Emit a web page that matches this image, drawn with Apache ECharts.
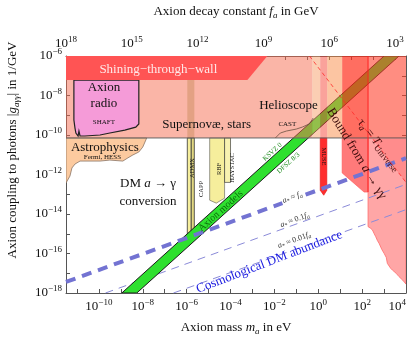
<!DOCTYPE html>
<html>
<head>
<meta charset="utf-8">
<script src="https://cdn.jsdelivr.net/npm/echarts@6/dist/echarts.min.js"></script>
<style>
html,body{margin:0;padding:0;background:#fff;}
#chart{width:409px;height:339px;}
</style>
</head>
<body>
<div id="chart"></div>
<script>
// ---------- data (log10 units: x = log10(m_a / eV), y = log10(|g_agg| * GeV)) ----------
const massRange = [-11.5, 4.0];
const couplingRange = [-18, -6];
const logMassTimesFa = 6.5;              // log10(m_a[eV] * f_a[GeV])
const massTickExps = [-11,-10,-9,-8,-7,-6,-5,-4,-3,-2,-1,0,1,2,3,4];
const massLabelExps = [-10,-8,-6,-4,-2,0,2,4];
const couplingTickExps = [-18,-17,-16,-15,-14,-13,-12,-11,-10,-9,-8,-7,-6];
const couplingLabelExps = [-18,-16,-14,-12,-10,-8,-6];
const faTickExps = [3,4,5,6,7,8,9,10,11,12,13,14,15,16,17,18];
const faLabelExps = [3,6,9,12,15,18];

const hbBound = -10.15;
const shiningWall = [[-11.5,-6],[-2.32,-6],[-3.23,-7.22],[-11.5,-7.22]];
const helioStars = [[-11.5,-6],[-0.27,-6],[-0.27,-10.15],[-11.5,-10.15]];
const colEdges = [-0.27, 0.09, 0.41, 1.09, 2.27, 4.0];
const shaft = [[-11.14,-7.22],[-8.18,-7.22],[-8.18,-9.44],[-8.32,-9.6],[-8.82,-9.75],[-9.5,-9.9],[-9.95,-10.0],[-10.64,-10.05],[-10.86,-10.05],[-10.91,-9.8],[-10.95,-10.05],[-11.05,-9.9],[-11.09,-9.65],[-11.14,-9.24]];
const astro = [[-11.5,-10.15],[-7.82,-10.15],[-8.0,-10.61],[-8.18,-10.86],[-8.45,-11.01],[-8.68,-11.16],[-8.91,-11.32],[-9.5,-11.27],[-9.95,-11.32],[-10.86,-11.32],[-11.09,-11.47],[-11.23,-11.67],[-11.32,-12.08],[-11.5,-12.43]];
const admx = [[-5.97,-10.15],[-5.79,-10.15],[-5.79,-15.1],[-5.88,-15.45],[-5.97,-15.1]];
const capp = [[-5.79,-10.15],[-5.65,-10.15],[-5.65,-14.95],[-5.72,-15.25],[-5.79,-14.95]];
const rbfUf = [[-4.95,-10.15],[-4.27,-10.15],[-4.27,-13.2],[-4.65,-13.45],[-4.95,-13.3]];
const haystac = [[-4.27,-10.15],[-4.0,-10.15],[-4.0,-12.4],[-4.27,-12.4]];
const haloscopeHigh = [[-5.97,-6],[-5.65,-6],[-5.65,-10.15],[-5.97,-10.15]];
const museLow = [[0.09,-10.15],[0.39,-10.15],[0.39,-12.8],[0.25,-13.05],[0.09,-12.8]];
const redBlockLow = [[1.09,-10.15],[2.27,-10.15],[2.27,-12.89],[2.09,-12.89],[1.09,-11.92]];
const pinkLow = [[2.27,-10.15],[4.0,-10.15],[4.0,-17.55],[3.85,-17.35],[3.68,-17.17],[3.55,-17.0],[3.38,-16.84],[3.3,-16.75],[3.15,-16.5],[3.1,-16.2],[3.0,-15.99],[2.9,-15.8],[2.77,-15.48],[2.7,-15.35],[2.62,-15.15],[2.55,-15.0],[2.47,-14.81],[2.38,-14.72],[2.27,-14.64]];
const decayLow = [[2.45,-10.15],[4.0,-10.15],[4.0,-12.4]];
const ksvzEdge = [[-8.955,-18],[3.0,-6]];
const dfszEdge = [[-8.273,-18],[3.682,-6]];
const dmAbundance = [[-11.5,-17.44],[4.0,-11.17]];
const dmAbundance01 = [[-9.7,-18],[4.0,-12.5]];
const dmAbundance001 = [[-6.6,-18],[4.0,-13.78]];
const tauUniverse = [[-0.4,-6],[4.0,-12.4]];
const castCurve = [[-1.955,-10.15],[-1.73,-9.9],[-1.455,-9.8],[-1.0,-9.7],[-0.73,-9.6],[-0.41,-9.44],[-0.23,-9.14]];
const decayVertical = [[2.27,-6],[2.27,-12.89]];

// ---------- rendering ----------
const FF = '"Liberation Serif", "Times New Roman", serif';

function richZr(size, color) {
  const c = color || '#111';
  return {
    i: {fontStyle: 'italic', fontSize: size, fontFamily: FF, fill: c, color: c},
    sb: {fontSize: Math.round(size * 0.7), fontFamily: FF, fill: c, color: c, padding: [Math.round(size * 0.55), 0, 0, 0]},
    sbi: {fontStyle: 'italic', fontSize: Math.round(size * 0.7), fontFamily: FF, fill: c, color: c, padding: [Math.round(size * 0.55), 0, 0, 0]}
  };
}

function pow10(v) {
  const e = Math.round(v);
  const s = e < 0 ? '\u2212' + (-e) : String(e);
  return '{b|10}{s|' + s + '}';
}
const axisRich = {
  b: {fontSize: 13, fontFamily: FF, color: '#111'},
  s: {fontSize: 9, fontFamily: FF, color: '#111', padding: [0, 0, 8, 0]}
};

function polygon(pts, style, z) {
  return {
    type: 'custom', xAxisIndex: 0, yAxisIndex: 0, z: z, silent: true, clip: true,
    data: [pts[0]],
    renderItem: function (params, api) {
      return {type: 'polygon', shape: {points: pts.map(function (p) { return api.coord(p); })}, style: Object.assign({}, style)};
    }
  };
}
function line(pts, color, width, dash, z) {
  return {
    type: 'line', xAxisIndex: 0, yAxisIndex: 0, data: pts, symbol: 'none', silent: true, z: z, clip: true,
    lineStyle: {color: color, width: width, type: dash || 'solid', cap: 'butt'}
  };
}
function columnsAbove() {
  const fills = ['rgba(247,158,104,0.5)', 'rgba(245,70,55,0.5)', 'rgba(249,140,70,0.5)', 'rgba(255,48,30,0.7)', 'rgba(255,65,45,0.6)'];
  const out = [];
  for (let k = 0; k < colEdges.length - 1; k++) {
    const a = colEdges[k], b = colEdges[k + 1];
    out.push(polygon([[a, couplingRange[1]], [b, couplingRange[1]], [b, hbBound], [a, hbBound]], {fill: fills[k]}, 5));
  }
  return out;
}

function buildAnnotations() {
  return [
    {t: 'Shining\u2212through\u2212wall', p: [-7.29, -6.71], f: 13, c: '#ffe8e8'},
    {t: 'Axion', p: [-9.77, -7.58], f: 13},
    {t: 'radio', p: [-9.77, -8.43], f: 13},
    {t: 'SHAFT', p: [-9.77, -9.33], f: 7},
    {t: 'Astrophysics', p: [-9.73, -10.63], f: 13},
    {t: 'Fermi, HESS', p: [-9.84, -11.14], f: 7},
    {t: 'Supernov\u00e6, stars', p: [-5.09, -9.47], f: 13},
    {t: 'Helioscope', p: [-1.36, -8.53], f: 13},
    {t: 'CAST', p: [-1.41, -9.47], f: 7},
    {t: 'DM {i|a} \u2192 \u03b3', p: [-7.76, -12.48], f: 13},
    {t: 'conversion', p: [-7.76, -13.38], f: 13},
    {t: 'ADMX', p: [-5.75, -11.67], f: 6.5, r: 90},
    {t: 'CAPP', p: [-5.34, -12.73], f: 6.5, r: 90},
    {t: 'RBF', p: [-4.5, -11.72], f: 6.5, r: 90},
    {t: 'HAYSTAC', p: [-3.91, -11.67], f: 6.5, r: 90},
    {t: 'Axion models', p: [-4.45, -13.85], f: 10, r: 42, c: '#0b6a0b'},
    {t: 'KSVZ 0', p: [-2.09, -10.86], f: 7, r: 42, c: '#1e8c1e'},
    {t: 'DFSZ 8/3', p: [-1.36, -11.42], f: 7, r: 42, c: '#1e8c1e'},
    {t: '{i|a}{sb|*} \u2248 {i|f}{sbi|a}', p: [-1.18, -13.16], f: 8, r: 20, c: '#333', bg: '#fff'},
    {t: '{i|a}{sb|*} \u2248 0.1{i|f}{sbi|a}', p: [-1.07, -14.30], f: 8, r: 20, c: '#333'},
    {t: '{i|a}{sb|*} \u2248 0.01{i|f}{sbi|a}', p: [-1.09, -15.32], f: 8, r: 20, c: '#333'},
    {t: 'Cosmological DM abundance', p: [-2.23, -16.43], f: 13, r: 21, c: '#1a1ae0'},
    {t: 'MUSE', p: [0.25, -11.09], f: 6.5, r: -90},
    {t: 'Bound from {i|a} \u2192 \u03b3\u03b3', p: [1.75, -10.94], f: 13, r: -58.6, c: '#3a0a0a'},
    {t: '\u03c4{sbi|a} = {i|T}{sb|Universe}', p: [2.77, -10.51], f: 12.5, r: -52, c: '#4a0c0c'}
  ];
}

const ann = buildAnnotations();
const textSeries = {
  type: 'custom', xAxisIndex: 0, yAxisIndex: 0, z: 8, silent: true, clip: false,
  data: ann.map(function (a) { return a.p; }),
  renderItem: function (params, api) {
    const a = ann[params.dataIndex];
    const pt = api.coord([api.value(0), api.value(1)]);
    const st = {
      text: a.t, fill: a.c || '#111', font: a.f + 'px ' + FF,
      align: 'center', verticalAlign: 'middle', rich: richZr(a.f, a.c)
    };
    if (a.bg) { st.backgroundColor = a.bg; st.padding = [0, 1]; }
    return {type: 'text', x: pt[0], y: pt[1], rotation: (a.r || 0) * Math.PI / 180, style: st};
  }
};

const band = [ksvzEdge[0], ksvzEdge[1], dfszEdge[1], dfszEdge[0]];
const frame = '#555';

const option = {
  animation: false,
  backgroundColor: '#fff',
  grid: {left: 66, right: 2, top: 56, bottom: 46, containLabel: false},
  xAxis: [
    {
      type: 'value', min: massRange[0], max: massRange[1], position: 'bottom',
      axisLine: {show: true, onZero: false, lineStyle: {color: frame, width: 1}},
      axisTick: {show: true, inside: true, length: 4, customValues: massTickExps, lineStyle: {color: frame}},
      axisLabel: {customValues: massLabelExps, formatter: pow10, rich: axisRich, margin: 5, alignMaxLabel: 'right'},
      splitLine: {show: false}
    },
    {
      type: 'value', min: logMassTimesFa - massRange[1], max: logMassTimesFa - massRange[0], inverse: true, position: 'top',
      axisLine: {show: true, onZero: false, lineStyle: {color: frame, width: 1}},
      axisTick: {show: true, inside: true, length: 4, customValues: faTickExps, lineStyle: {color: frame}},
      axisLabel: {customValues: faLabelExps, formatter: pow10, rich: axisRich, margin: 4},
      splitLine: {show: false}
    }
  ],
  yAxis: [
    {
      type: 'value', min: couplingRange[0], max: couplingRange[1], position: 'left',
      axisLine: {show: true, onZero: false, lineStyle: {color: frame, width: 1}},
      axisTick: {show: true, inside: true, length: 4, customValues: couplingTickExps, lineStyle: {color: frame}},
      axisLabel: {customValues: couplingLabelExps, formatter: pow10, rich: axisRich, margin: 4},
      splitLine: {show: false}
    },
    {
      type: 'value', min: couplingRange[0], max: couplingRange[1], position: 'right',
      axisLine: {show: true, onZero: false, lineStyle: {color: frame, width: 1}},
      axisTick: {show: true, inside: true, length: 4, customValues: couplingTickExps, lineStyle: {color: frame}},
      axisLabel: {show: false},
      splitLine: {show: false}
    }
  ],
  graphic: [
    {type: 'text', x: 236, y: 12, z: 10, style: {text: 'Axion decay constant {i|f}{sbi|a} in GeV', font: '13px ' + FF, fill: '#111', align: 'center', verticalAlign: 'middle', rich: richZr(13)}},
    {type: 'text', x: 236, y: 328, z: 10, style: {text: 'Axion mass {i|m}{sbi|a} in eV', font: '13px ' + FF, fill: '#111', align: 'center', verticalAlign: 'middle', rich: richZr(13)}},
    {type: 'text', x: 13, y: 150, z: 10, rotation: Math.PI / 2, style: {text: 'Axion coupling to photons |{i|g}{sbi|a\u03b3\u03b3}| in 1/GeV', font: '13px ' + FF, fill: '#111', align: 'center', verticalAlign: 'middle', rich: richZr(13)}}
  ],
  series: [
    polygon(astro, {fill: '#fcca9f', stroke: '#8a7363', lineWidth: 0.8}, 1),
    polygon(admx, {fill: '#f6ee9c', stroke: '#333', lineWidth: 0.8}, 1),
    polygon(capp, {fill: '#e2d882', stroke: '#333', lineWidth: 0.8}, 1),
    polygon(rbfUf, {fill: '#f6ee9c', stroke: '#555', lineWidth: 0.6}, 1),
    polygon(haystac, {fill: '#f8f2b0', stroke: '#222', lineWidth: 0.6}, 1),
    polygon(museLow, {fill: '#ff2e2e', stroke: '#e01010', lineWidth: 0.6}, 1),
    polygon(redBlockLow, {fill: '#ff7a7a', stroke: '#ff5050', lineWidth: 0.6}, 1),
    polygon(pinkLow, {fill: '#ffa6a6', stroke: '#ff6a6a', lineWidth: 0.8}, 1),
    polygon(decayLow, {fill: '#ff8c8c'}, 1),
    line(dmAbundance01, '#8a8ad8', 1, [8, 6], 2),
    line(dmAbundance001, '#8a8ad8', 1, [8, 6], 2),
    polygon(band, {fill: '#2fe02f', stroke: '#1a1a1a', lineWidth: 1}, 3),
    line(dmAbundance, '#7373d2', 4, [10, 7], 4),
    polygon(helioStars, {fill: 'rgba(245,108,80,0.5)'}, 5),
    polygon(haloscopeHigh, {fill: 'rgba(170,110,40,0.28)'}, 5)
  ].concat(columnsAbove()).concat([
    polygon(shaft, {fill: '#f59bd8', stroke: '#222', lineWidth: 1.2}, 6),
    polygon(shiningWall, {fill: '#ff5454'}, 6),
    line([[massRange[0], hbBound], [massRange[1], hbBound]], '#666', 1, 'solid', 6),
    line(castCurve, '#6a5040', 0.8, 'solid', 6),
    line(tauUniverse, '#ff2a2a', 0.8, [4, 3], 6),
    line(decayVertical, '#ff2020', 1, 'solid', 6),
    textSeries
  ])
};

const chart = echarts.init(document.getElementById('chart'), null, {renderer: 'canvas'});
chart.setOption(option);
</script>
</body>
</html>
